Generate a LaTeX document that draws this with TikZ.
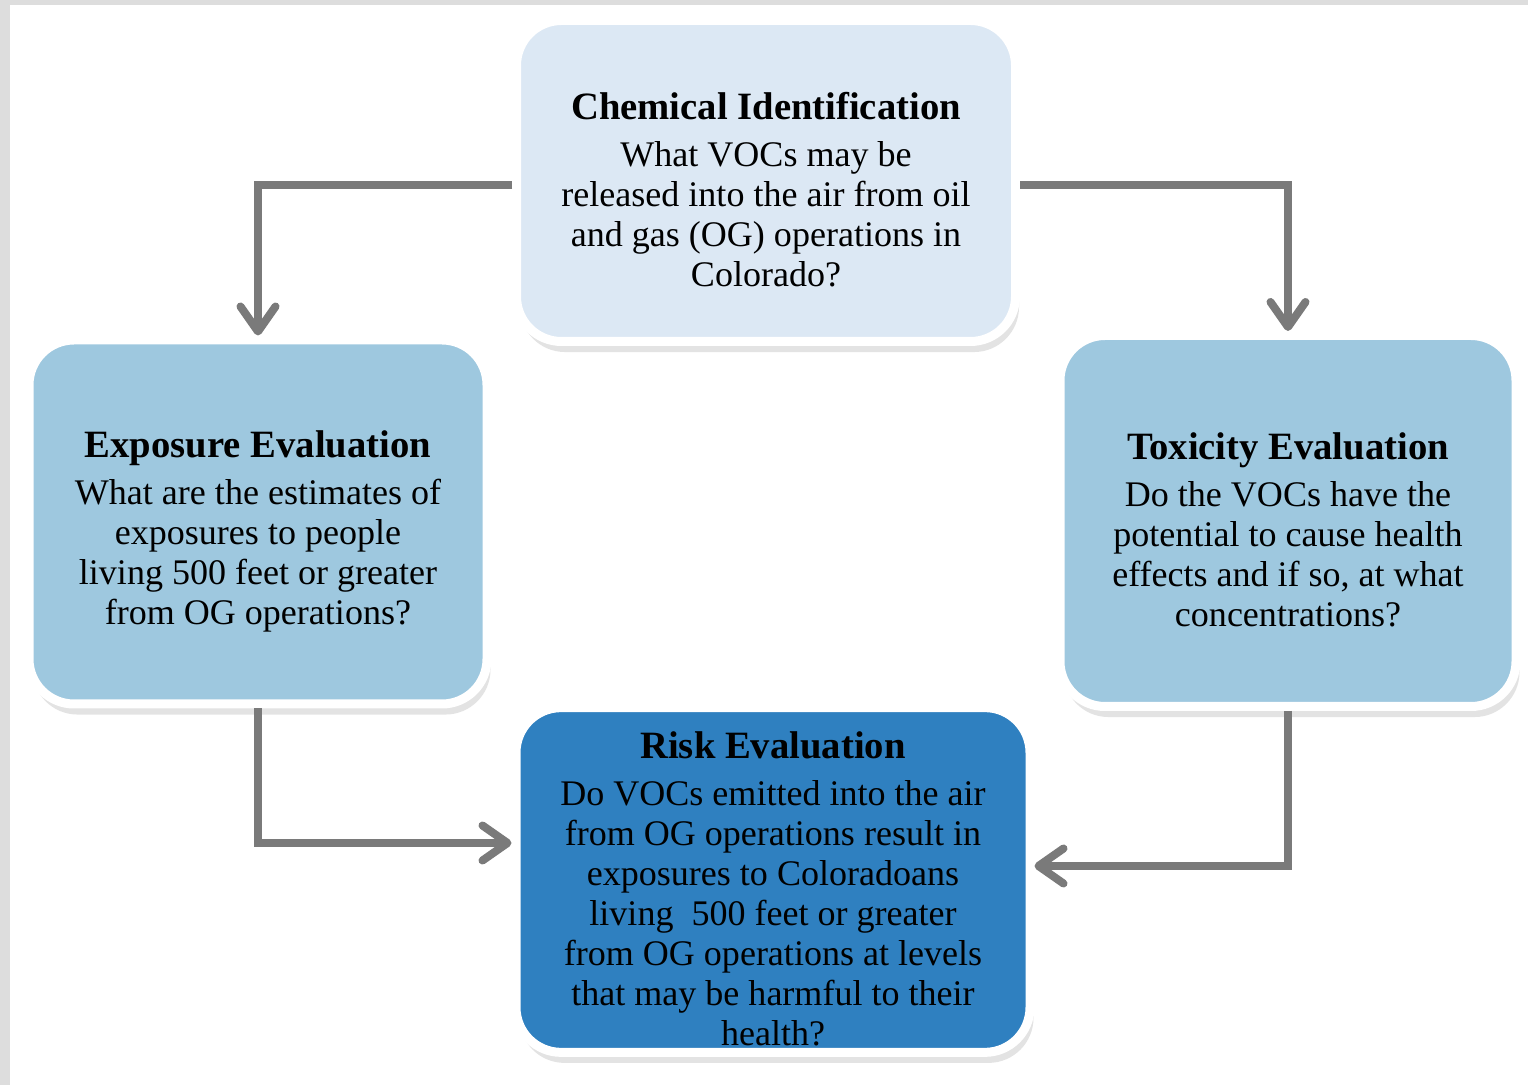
\documentclass[tikz,border=0pt]{standalone}
\usepackage{fontspec}
\setmainfont{Liberation Serif}
\usetikzlibrary{shapes,arrows.meta,positioning,calc,shadows}
\definecolor{framegray}{RGB}{221,221,221}
\definecolor{chemblue}{RGB}{220,232,244}
\definecolor{evalblue}{RGB}{158,200,223}
\definecolor{riskblue}{RGB}{47,128,192}
\definecolor{arrowgray}{RGB}{122,122,122}
\newcommand{\boxtitle}[1]{{\fontsize{22}{22.8}\selectfont\bfseries\rule{0pt}{0.9cm}#1}\\[4pt]}

\begin{document}
\begin{tikzpicture}[
      box/.style={rectangle, draw=white, line width=0.18cm, rounded corners=0.9cm, align=center, text=black, font=\fontsize{20.5}{22.8}\selectfont, drop shadow={opacity=0.22, shadow xshift=2pt, shadow yshift=-6pt}},
      arrow/.style={-{Straight Barb[length=0.5cm, width=0.7cm, round]}, line width=0.16cm, color=arrowgray}
    ]
      % page frame
      \fill[framegray] (0,0) rectangle (30.56,21.70);
      \fill[white] (0.2,0) rectangle (30.56,21.60);
      \useasboundingbox (0,0) rectangle (30.56,21.70);

      \node[box, fill=chemblue, minimum width=9.98cm, minimum height=6.42cm] (chem) at (15.32,18.08)
        {\boxtitle{Chemical Identification}What VOCs may be\\ released into the air from oil\\ and gas (OG) operations in\\ Colorado?};
      \node[box, fill=evalblue, minimum width=9.16cm, minimum height=7.28cm] (expo) at (5.16,11.26)
        {\boxtitle{Exposure Evaluation}What are the estimates of\\ exposures to people\\ living 500 feet or greater\\ from OG operations?};
      \node[box, fill=evalblue, minimum width=9.12cm, minimum height=7.42cm] (tox) at (25.76,11.28)
        {\boxtitle{Toxicity Evaluation}Do the VOCs have the\\ potential to cause health\\ effects and if so, at what\\ concentrations?};
      \node[box, fill=riskblue, minimum width=10.28cm, minimum height=6.86cm] (risk) at (15.46,4.10)
        {\boxtitle{Risk Evaluation}Do VOCs emitted into the air\\ from OG operations result in\\ exposures to Coloradoans\\ living~ 500 feet or greater\\ from OG operations at levels\\ that may be harmful to their\\ health?};

      \draw[arrow] ([yshift=-0.08cm]chem.west) -| (expo.north);
      \draw[arrow] ([yshift=-0.08cm]chem.east) -| (tox.north);
      \draw[arrow] (expo.south) |- ([yshift=0.74cm]risk.west);
      \draw[arrow] (tox.south) |- ([yshift=0.28cm]risk.east);
    \end{tikzpicture}
\end{document}
